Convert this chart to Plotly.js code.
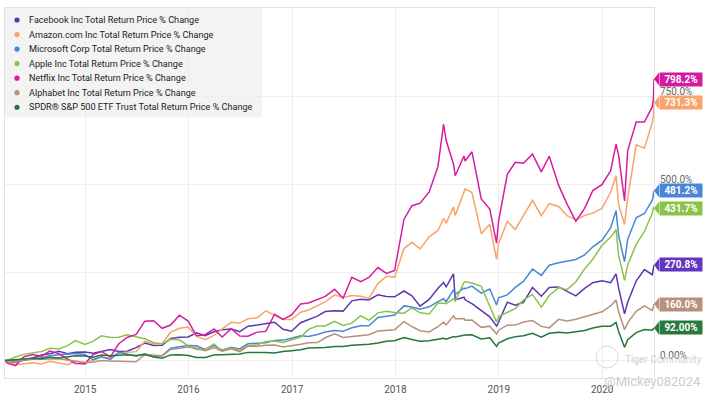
<!DOCTYPE html>
<html><head><meta charset="utf-8">
<script src="https://cdn.plot.ly/plotly-3.0.1.min.js"></script>
<style>html,body{margin:0;padding:0;background:#fff}#chart{width:711px;height:398px}</style>
</head><body><div id="chart"></div>
<script>
// ---- data (total return % change since 2014-03-24) ----
const dates = [
 "2014-03-24","2014-03-31","2014-04-30","2014-05-30","2014-06-30","2014-07-31","2014-08-29","2014-09-30","2014-10-31","2014-11-28","2014-12-31",
 "2015-01-30","2015-02-27","2015-03-31","2015-04-30","2015-05-29","2015-06-30","2015-07-31","2015-08-31","2015-09-30","2015-10-30","2015-11-30","2015-12-31",
 "2016-01-29","2016-02-29","2016-03-31","2016-04-29","2016-05-31","2016-06-30","2016-07-29","2016-08-31","2016-09-30","2016-10-31","2016-11-30","2016-12-30",
 "2017-01-31","2017-02-28","2017-03-31","2017-04-28","2017-05-31","2017-06-30","2017-07-31","2017-08-31","2017-09-29","2017-10-31","2017-11-30","2017-12-29",
 "2018-01-31","2018-02-28","2018-03-29","2018-04-30","2018-05-31","2018-06-20","2018-06-29","2018-07-25","2018-07-31","2018-08-31","2018-09-04","2018-09-28","2018-10-31","2018-11-30","2018-12-24","2018-12-31",
 "2019-01-31","2019-02-28","2019-03-29","2019-04-30","2019-05-31","2019-06-28","2019-07-31","2019-08-30","2019-09-30","2019-10-31","2019-11-29","2019-12-31",
 "2020-01-31","2020-02-19","2020-02-28","2020-03-20","2020-03-31","2020-04-30","2020-05-29","2020-06-26","2020-06-30","2020-07-02"
];
const facebook = [
 0,-4.3,-5.0,0.6,6.9,15.4,18.9,25.6,19.1,23.4,23.9,
 20.6,25.4,30.6,25.1,25.8,36.3,49.3,42.1,42.8,62.0,65.6,66.3,
 78.3,69.9,81.3,86.8,88.7,81.5,96.9,100.4,103.8,108.1,88.1,82.8,
 107.0,115.3,125.7,138.7,140.6,139.8,168.9,173.2,171.4,186.0,181.5,180.3,
 196.9,183.3,153.8,173.2,204.7,220.9,208.7,245.5,171.7,179.2,171.9,161.3,141.1,123.4,97.1,108.2,
 164.8,156.5,164.8,207.2,181.9,206.6,208.5,195.0,182.9,204.4,220.3,226.1,
 220.7,245.5,205.7,131.9,165.0,225.2,257.6,243.3,260.7,270.8
];
const amazon = [
 0,-3.3,-12.5,-10.1,-6.6,-10.0,-2.5,-7.3,-12.1,-2.6,-10.7,
 2.0,9.3,7.0,21.3,23.4,24.8,54.2,47.5,47.2,80.0,91.2,94.4,
 68.8,58.9,70.7,89.7,107.9,105.8,118.2,121.2,140.8,127.2,115.9,115.7,
 136.8,143.0,155.0,166.0,186.1,178.4,184.1,182.0,176.5,217.9,238.4,236.3,
 317.3,335.0,316.3,350.4,368.7,403.3,388.9,436.0,411.2,478.9,486.6,476.1,359.6,386.1,286.5,332.0,
 394.3,371.6,412.2,454.1,410.5,444.6,436.9,410.9,399.3,411.0,417.9,431.4,
 477.7,524.2,441.8,385.8,460.7,611.5,602.4,674.5,693.4,731.3
];
const microsoft = [
 0,1.2,0.0,1.5,3.5,7.4,13.2,15.7,17.4,19.8,16.6,
 1.6,10.4,2.6,22.9,18.6,12.0,18.6,10.8,12.8,34.4,39.0,42.2,
 41.5,30.8,42.3,28.7,37.0,32.5,47.1,49.4,50.0,56.3,57.5,62.6,
 69.6,68.0,73.3,80.5,84.5,82.4,92.7,98.5,98.1,121.6,124.7,128.7,
 154.6,151.6,145.4,151.9,166.7,175.0,166.6,200.1,187.3,204.8,203.4,210.8,190.8,202.5,157.1,177.6,
 186.0,207.2,224.1,259.5,241.1,270.1,277.2,282.3,286.3,299.1,322.2,340.6,
 376.6,424.9,354.3,280.1,343.1,404.5,416.8,454.6,475.0,481.2
];
const apple = [
 0,-0.5,9.7,17.8,21.3,25.0,34.2,32.1,41.8,56.4,45.4,
 54.6,69.7,64.7,65.9,73.0,66.8,61.5,50.4,47.3,59.9,58.5,41.3,
 30.9,30.2,47.0,26.6,35.1,29.5,41.4,44.2,53.9,54.8,51.0,58.4,
 66.3,87.9,97.4,97.8,110.6,98.9,105.7,127.2,113.9,134.9,139.3,136.0,
 133.9,149.1,135.1,131.9,162.7,162.2,160.6,174.7,168.4,221.5,222.8,219.4,210.1,153.5,108.6,124.3,
 137.1,146.9,171.4,187.2,151.0,184.2,206.4,200.8,223.2,259.7,287.1,326.0,
 349.8,370.6,297.9,227.0,270.8,329.1,365.2,418.1,434.7,431.7
];
const netflix = [
 0,-7.0,-14.9,10.4,16.4,11.7,26.2,19.2,3.9,-8.7,-9.7,
 16.7,25.3,10.1,47.2,64.9,73.6,111.4,112.7,91.0,100.4,128.1,111.5,
 69.9,72.8,89.1,66.5,89.7,69.2,68.8,80.2,82.3,130.9,116.4,129.0,
 160.2,162.9,173.4,181.5,201.6,176.3,236.0,223.1,235.4,263.3,246.9,255.0,
 399.9,438.9,446.2,477.9,550.3,670.8,623.9,556.6,524.1,580.0,565.8,591.9,458.1,429.2,332.6,395.0,
 527.9,562.3,559.4,585.3,534.9,579.3,497.4,443.3,394.9,431.5,482.0,498.4,
 538.2,613.9,582.5,452.7,594.5,676.5,676.3,720.0,741.6,798.2
];
const alphabet = [
 0,-1.1,-5.0,1.5,3.8,3.4,4.3,4.5,0.9,-2.5,-5.7,
 -4.5,-0.1,-1.5,-2.5,-3.1,-4.1,16.8,15.1,13.4,31.0,35.5,38.2,
 35.2,27.4,35.5,25.7,33.0,25.0,40.6,40.3,42.8,43.9,37.8,40.8,
 45.7,50.1,50.6,64.2,75.3,65.1,67.9,69.7,73.0,83.5,85.9,87.1,
 110.0,96.1,84.2,80.9,95.4,109.1,100.6,126.6,118.0,118.8,114.0,114.4,93.7,97.1,74.9,85.6,
 100.0,100.1,109.0,113.0,96.5,92.3,116.4,111.5,116.9,123.6,131.6,137.9,
 154.5,171.2,137.9,87.2,106.4,139.2,154.6,142.0,151.9,160.0
];
const spy = [
 0,0.5,1.4,3.9,5.7,4.5,8.8,7.0,9.7,13.0,12.2,
 9.1,15.4,13.3,14.6,16.3,13.6,16.4,9.5,6.4,15.6,16.2,13.8,
 8.3,8.4,15.3,16.0,18.2,18.2,22.7,23.1,22.7,20.8,25.5,27.5,
 30.1,35.4,35.3,36.8,39.1,39.5,42.7,43.4,45.8,49.5,54.4,55.7,
 64.9,59.1,54.4,55.5,59.6,62.6,60.1,67.9,66.4,72.0,71.8,72.6,61.0,64.3,39.8,49.2,
 61.5,67.0,69.7,76.9,66.0,77.0,80.1,77.4,80.4,84.7,91.8,96.8,
 97.1,107.5,81.8,37.0,58.4,78.9,87.8,85.4,90.6,92.0
];
const seriesNames = [
 "Facebook Inc Total Return Price % Change",
 "Amazon.com Inc Total Return Price % Change",
 "Microsoft Corp Total Return Price % Change",
 "Apple Inc Total Return Price % Change",
 "Netflix Inc Total Return Price % Change",
 "Alphabet Inc Total Return Price % Change",
 "SPDR® S&P 500 ETF Trust Total Return Price % Change"
];
const yearTicks = ["2015-01-01","2016-01-01","2017-01-01","2018-01-01","2019-01-01","2020-01-01"];
const yearLabels = ["2015","2016","2017","2018","2019","2020"];
const yTickVals = [0, 250, 500, 750];
const yTickText = ["0.00%", "", "500.0%", "750.0%"];

// ---- styling ----
const seriesValues = [facebook, amazon, microsoft, apple, netflix, alphabet, spy];
const lineColors = ["#5e35b1", "#f9a36b", "#4a86d8", "#8bc34a", "#d81b9f", "#b8917b", "#23773a"];
const tagColors  = ["#6237c0", "#f9a46e", "#4a86d8", "#8bc34a", "#d41b9f", "#b8917b", "#267a3c"];

const traces = seriesValues.map((vals, i) => ({
  type: "scatter", mode: "lines", x: dates, y: vals, name: seriesNames[i],
  line: {color: lineColors[i], width: 1.5}, hoverinfo: "skip", showlegend: false
}));

const shapes = [];
const annotations = [];

// legend box
shapes.push({type: "rect", xref: "paper", yref: "paper", x0: 0, x1: 0.396, y0: 0.705, y1: 1,
  fillcolor: "#f3f3f3", line: {width: 0}, layer: "below"});
seriesNames.forEach((nm, i) => {
  const yy = 0.9676 - i * 0.0393;
  shapes.push({type: "circle", xref: "paper", yref: "paper", xsizemode: "pixel", ysizemode: "pixel",
    xanchor: 0.0185, yanchor: yy, x0: -2.6, x1: 2.6, y0: -2.6, y1: 2.6,
    fillcolor: lineColors[i], line: {width: 0}});
  annotations.push({xref: "paper", yref: "paper", x: 0.0335, y: yy, xanchor: "left", yanchor: "middle",
    showarrow: false, text: nm, font: {family: "Roboto, sans-serif", size: 9.1, color: "#222"}});
});

// end-value tags
seriesValues.forEach((vals, i) => {
  const last = vals[vals.length - 1];
  shapes.push({type: "path", xref: "paper", yref: "y", xsizemode: "pixel", ysizemode: "pixel",
    xanchor: 1, yanchor: last, path: "M 0 0 L 5 6.5 L 5 -6.5 Z",
    fillcolor: tagColors[i], line: {width: 0}});
  annotations.push({xref: "paper", yref: "y", x: 1, y: last, xanchor: "left", yanchor: "middle",
    xshift: 5, showarrow: false, text: "<b>" + last.toPrecision(4) + "%</b>",
    bgcolor: tagColors[i], borderpad: 1, width: 40, height: 11,
    font: {family: "Roboto, sans-serif", size: 10, color: "#ffffff"}});
});

// watermark
shapes.push({type: "circle", xref: "paper", yref: "paper", x0: 0.9106, x1: 0.9445, y0: 0.027, y1: 0.0865,
  line: {color: "#d9d9d9", width: 1}, fillcolor: "rgba(0,0,0,0)"});
annotations.push({xref: "paper", yref: "paper", x: 0.952, y: 0.051, xanchor: "left", yanchor: "middle",
  showarrow: false, text: "Tiger Community", font: {family: "Roboto, sans-serif", size: 10, color: "#d2d2d2"}});
annotations.push({xref: "paper", yref: "paper", x: 0.92, y: -0.01, xanchor: "left", yanchor: "middle",
  showarrow: false, text: "@Mickey082024", font: {family: "Roboto, sans-serif", size: 13, color: "#cccccc"}});

const layout = {
  width: 711, height: 398,
  margin: {l: 5, r: 57, t: 8, b: 20, pad: 0},
  paper_bgcolor: "#ffffff", plot_bgcolor: "#ffffff",
  font: {family: "Roboto, sans-serif", size: 10, color: "#555"},
  showlegend: false,
  xaxis: {type: "date", range: [dates[0], dates[dates.length - 1]],
    tickmode: "array", tickvals: yearTicks, ticktext: yearLabels,
    showgrid: true, gridcolor: "#eeeeee", gridwidth: 1, zeroline: false,
    showline: true, mirror: true, linecolor: "#e2e2e2", ticks: "", ticklabelstandoff: 2,
    tickfont: {size: 10, color: "#555"}},
  yaxis: {side: "right", range: [-50, 1000], tickmode: "array", tickvals: yTickVals, ticktext: yTickText,
    ticklabelposition: "outside top", ticklabelshift: 2, ticklabelstandoff: 3,
    showgrid: true, gridcolor: "#eeeeee", zeroline: false,
    showline: true, mirror: true, linecolor: "#e2e2e2", ticks: "",
    tickfont: {size: 10, color: "#666"}},
  shapes: shapes, annotations: annotations
};

Plotly.newPlot("chart", traces, layout, {displayModeBar: false, staticPlot: true});
</script>
</body></html>
